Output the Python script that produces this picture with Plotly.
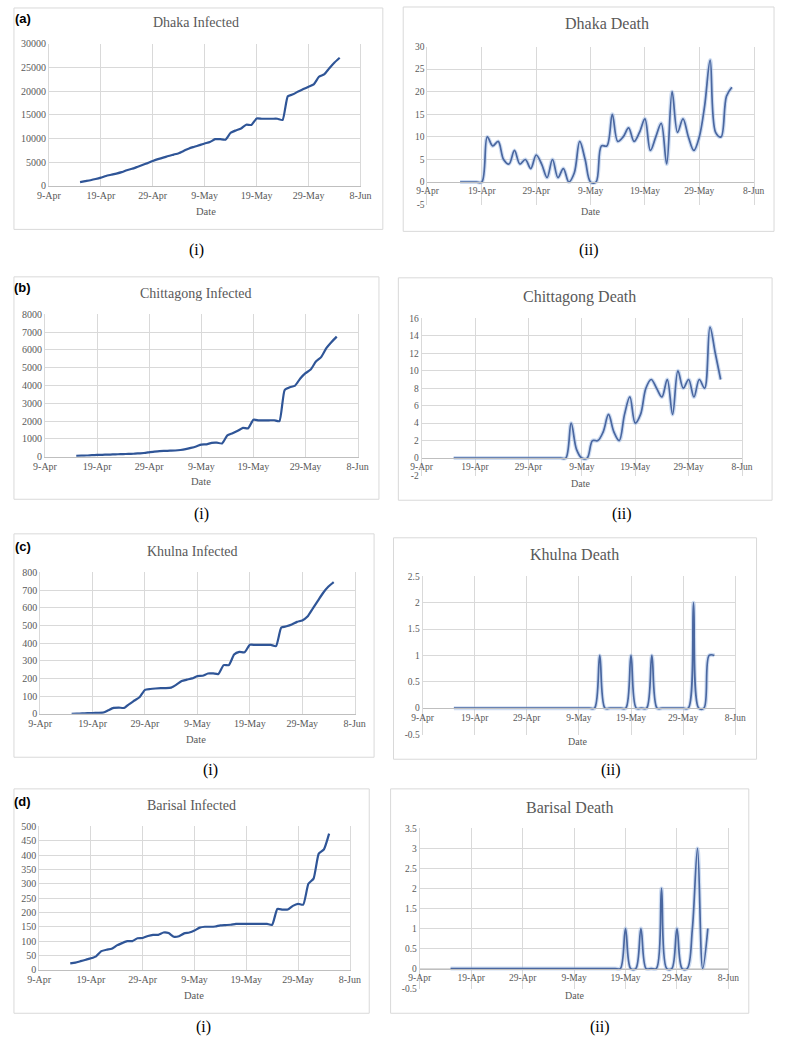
import plotly.graph_objects as go
import pandas as pd

W, H = 786, 1042

# ---------------- data ----------------
dates = pd.date_range("2020-04-15", "2020-06-04").strftime("%Y-%m-%d").tolist()
tick_dates = ["2020-04-09", "2020-04-19", "2020-04-29", "2020-05-09",
              "2020-05-19", "2020-05-29", "2020-06-08"]
tick_labels = ["9-Apr", "19-Apr", "29-Apr", "9-May", "19-May", "29-May", "8-Jun"]

dhaka_infected = [800, 1000, 1200, 1450, 1750, 2100, 2350, 2600, 2900, 3300,
                  3600, 4000, 4400, 4800, 5250, 5650,
                  5950, 6300, 6600, 6900, 7400, 7900, 8250, 8600, 8950, 9250,
                  9850, 9850, 9750, 11200, 11700, 12100, 12900, 12850, 14200, 14150,
                  14150, 14150, 14150, 13900, 18900, 19300, 19900, 20400, 20900, 21400,
                  23000, 23500, 24800, 26000, 27000]
dhaka_death = [0, 0, 0, 0, 0, 10, 8, 9, 5, 4,
               7, 4, 5, 3, 6, 4,
               1, 5, 1, 3, 0, 2, 9, 5, 0, 0,
               8, 8, 15, 9, 10, 12, 9, 11, 14, 7,
               10, 13, 4, 20, 11, 14, 10, 7, 10, 17,
               27, 11, 10, 19, 21]
chittagong_infected = [50, 60, 70, 90, 100, 110, 120, 130, 140, 150,
                       160, 170, 190, 210, 250, 290,
                       320, 330, 340, 350, 380, 430, 500, 580, 680, 700,
                       780, 790, 750, 1200, 1320, 1460, 1620, 1600, 2080, 2050,
                       2050, 2050, 2050, 2000, 3750, 3900, 4000, 4400, 4700, 4900,
                       5350, 5600, 6100, 6450, 6750]
chittagong_death = [0, 0, 0, 0, 0, 0, 0, 0, 0, 0,
                    0, 0, 0, 0, 0, 0,
                    0, 0, 0, 0, 0, 0, 4, 1, 0, 0,
                    2, 2, 3, 5, 3, 2, 5, 7, 4, 5,
                    8, 9, 8, 7, 9, 5, 10, 8, 9, 7,
                    9, 8, 15, 12, 9]
khulna_infected = [0, 1, 2, 3, 4, 5, 6, 20, 33, 35,
                   33, 55, 75, 95, 135, 140,
                   143, 145, 145, 148, 165, 185, 193, 200, 213, 215,
                   228, 228, 225, 275, 275, 335, 350, 348, 390, 390,
                   390, 390, 390, 383, 488, 495, 505, 520, 528, 550,
                   595, 640, 685, 720, 745]
khulna_death = [0, 0, 0, 0, 0, 0, 0, 0, 0, 0,
                0, 0, 0, 0, 0, 0,
                0, 0, 0, 0, 0, 0, 0, 0, 0, 0,
                0, 0, 1, 0, 0, 0, 0, 0, 1, 0,
                0, 0, 1, 0, 0, 0, 0, 0, 0, 0,
                2, 0, 0, 1, 1]
barisal_infected = [22, 25, 30, 35, 40, 47, 65, 70, 73, 85,
                    93, 100, 100, 110, 111, 118,
                    122, 122, 130, 128, 115, 117, 127, 130, 137, 147,
                    150, 150, 151, 155, 156, 157, 160, 160, 160, 160,
                    160, 160, 160, 157, 212, 210, 210, 223, 230, 227,
                    300, 318, 405, 420, 475]
barisal_death = [0, 0, 0, 0, 0, 0, 0, 0, 0, 0,
                 0, 0, 0, 0, 0, 0,
                 0, 0, 0, 0, 0, 0, 0, 0, 0, 0,
                 0, 0, 0, 0, 0, 0, 0, 0, 1, 0,
                 0, 1, 0, 0, 0, 2, 0, 0, 1, 0,
                 0, 1, 3, 0, 1]

dhaka_inf_ticks = [0, 5000, 10000, 15000, 20000, 25000, 30000]
dhaka_death_ticks = [-5, 0, 5, 10, 15, 20, 25, 30]
ctg_inf_ticks = [0, 1000, 2000, 3000, 4000, 5000, 6000, 7000, 8000]
ctg_death_ticks = [-2, 0, 2, 4, 6, 8, 10, 12, 14, 16]
khulna_inf_ticks = [0, 100, 200, 300, 400, 500, 600, 700, 800]
khulna_death_ticks = [-0.5, 0, 0.5, 1, 1.5, 2, 2.5]
barisal_inf_ticks = [0, 50, 100, 150, 200, 250, 300, 350, 400, 450, 500]
barisal_death_ticks = [-0.5, 0, 0.5, 1, 1.5, 2, 2.5, 3, 3.5]

# ---------------- layout specs (pixels) ----------------
panels = [
    dict(y=dhaka_infected, ticks=dhaka_inf_ticks, title="Dhaka Infected", kind="inf",
         plot=(38, 359, 38, 182), box=(2, 2, 382, 226), tpos=(190, 17), dpos=(200, 208)),
    dict(y=dhaka_death, ticks=dhaka_death_ticks, title="Dhaka Death", kind="death",
         plot=(428, 764, 41, 201), box=(403, 1, 785, 228), tpos=(613, 18), dpos=(596, 208)),
    dict(y=chittagong_infected, ticks=ctg_inf_ticks, title="Chittagong Infected", kind="inf",
         plot=(34, 356, 312, 456), box=(2, 274, 378, 499), tpos=(190, 291), dpos=(195, 481)),
    dict(y=chittagong_death, ticks=ctg_death_ticks, title="Chittagong Death", kind="death",
         plot=(422, 752, 316, 475), box=(398, 275, 783, 500), tpos=(585, 294), dpos=(586, 483)),
    dict(y=khulna_infected, ticks=khulna_inf_ticks, title="Khulna Infected", kind="inf",
         plot=(29, 353, 573, 716), box=(2, 534, 373, 760), tpos=(186, 552), dpos=(190, 742)),
    dict(y=khulna_death, ticks=khulna_death_ticks, title="Khulna Death", kind="death",
         plot=(423, 745, 577, 737), box=(393, 538, 767, 762), tpos=(579, 555), dpos=(583, 744)),
    dict(y=barisal_infected, ticks=barisal_inf_ticks, title="Barisal Infected", kind="inf",
         plot=(28, 348, 830, 975), box=(2, 792, 368, 1019), tpos=(185, 809), dpos=(188, 1001)),
    dict(y=barisal_death, ticks=barisal_death_ticks, title="Barisal Death", kind="death",
         plot=(420, 738, 832, 994), box=(390, 792, 759, 1019), tpos=(575, 811), dpos=(579, 1001)),
]
letters = [("(a)", 11, 13), ("(b)", 11, 285), ("(c)", 11, 547), ("(d)", 11, 805)]
sublabels = [("(i)", 190, 247), ("(ii)", 594, 247), ("(i)", 195, 514), ("(ii)", 628, 514),
             ("(i)", 204, 773), ("(ii)", 617, 773), ("(i)", 197, 1033), ("(ii)", 606, 1033)]

SERIF = "Liberation Serif, Times New Roman, serif"
GRID = "#d9d9d9"
TXT = "#595959"


def fx(x):
    return x / W


def fy(y):
    return 1 - y / H


fig = go.Figure()
layout = dict(width=W, height=H, margin=dict(l=0, r=0, t=0, b=0),
              paper_bgcolor="white", plot_bgcolor="white", showlegend=False,
              shapes=[], annotations=[])

for i, p in enumerate(panels, start=1):
    xa = "x" if i == 1 else f"x{i}"
    ya = "y" if i == 1 else f"y{i}"
    xkey = "xaxis" if i == 1 else f"xaxis{i}"
    ykey = "yaxis" if i == 1 else f"yaxis{i}"
    x0, x1, top, bot = p["plot"]
    ymin, ymax = p["ticks"][0], p["ticks"][-1]
    death = p["kind"] == "death"

    if death:
        fig.add_trace(go.Scatter(x=dates, y=p["y"], mode="lines", xaxis=xa, yaxis=ya,
                                 line=dict(color="rgba(160,188,230,0.5)", width=4,
                                           shape="spline", smoothing=1.0),
                                 hoverinfo="skip"))
        fig.add_trace(go.Scatter(x=dates, y=p["y"], mode="lines", xaxis=xa, yaxis=ya,
                                 line=dict(color="#4a67a0", width=1.7,
                                           shape="spline", smoothing=1.0)))
    else:
        fig.add_trace(go.Scatter(x=dates, y=p["y"], mode="lines", xaxis=xa, yaxis=ya,
                                 line=dict(color="#2f5597", width=2.2,
                                           shape="spline", smoothing=0.5)))

    tsize = 9.5 if death else 10
    xaxis = dict(domain=[fx(x0), fx(x1)], type="date",
                 range=[tick_dates[0], tick_dates[-1]],
                 tickmode="array", tickvals=tick_dates, ticktext=tick_labels,
                 showgrid=True, gridcolor=GRID, gridwidth=1, ticks="",
                 showline=True, linecolor="#bfbfbf", linewidth=1, zeroline=False,
                 tickfont=dict(family=SERIF, size=tsize, color=TXT), fixedrange=True)
    if death:
        zero_px = top + (ymax - 0) / (ymax - ymin) * (bot - top)
        xaxis.update(anchor="free", position=fy(zero_px))
    else:
        xaxis.update(anchor=ya)
    yaxis = dict(domain=[fy(bot), fy(top)], range=[ymin, ymax],
                 tickmode="array", tickvals=p["ticks"],
                 ticktext=[format(v, "g") for v in p["ticks"]],
                 showgrid=True, gridcolor=GRID, gridwidth=1, ticks="",
                 showline=True, mirror=True, linecolor=GRID, linewidth=1,
                 zeroline=False, anchor=xa,
                 tickfont=dict(family=SERIF, size=tsize, color=TXT), fixedrange=True)
    layout[xkey] = xaxis
    layout[ykey] = yaxis

    bx0, by0, bx1, by1 = p["box"]
    layout["shapes"].append(dict(type="rect", xref="paper", yref="paper",
                                 x0=fx(bx0), x1=fx(bx1), y0=fy(by1), y1=fy(by0),
                                 line=dict(color=GRID, width=1), layer="below"))
    tx, ty = p["tpos"]
    layout["annotations"].append(dict(text=p["title"], x=fx(tx), y=fy(ty), xref="paper",
                                      yref="paper", showarrow=False, xanchor="center",
                                      yanchor="middle",
                                      font=dict(family=SERIF, size=16 if death else 14,
                                                color=TXT)))
    dx, dy = p["dpos"]
    layout["annotations"].append(dict(text="Date", x=fx(dx), y=fy(dy), xref="paper",
                                      yref="paper", showarrow=False, xanchor="center",
                                      yanchor="middle",
                                      font=dict(family=SERIF, size=10 if death else 10.5,
                                                color=TXT)))

for t, x, y in letters:
    layout["annotations"].append(dict(text=f"<b>{t}</b>", x=fx(x), y=fy(y), xref="paper",
                                      yref="paper", showarrow=False, xanchor="center",
                                      yanchor="middle",
                                      font=dict(family="Liberation Sans, Arial, sans-serif",
                                                size=13, color="#000000")))
for t, x, y in sublabels:
    layout["annotations"].append(dict(text=t, x=fx(x), y=fy(y), xref="paper",
                                      yref="paper", showarrow=False, xanchor="center",
                                      yanchor="middle",
                                      font=dict(family=SERIF, size=16, color="#000000")))

fig.update_layout(**layout)
fig.write_html("out.html", config={"displayModeBar": False},
               post_script="document.body.style.margin='0px';"
                           "document.body.style.overflow='hidden';")
